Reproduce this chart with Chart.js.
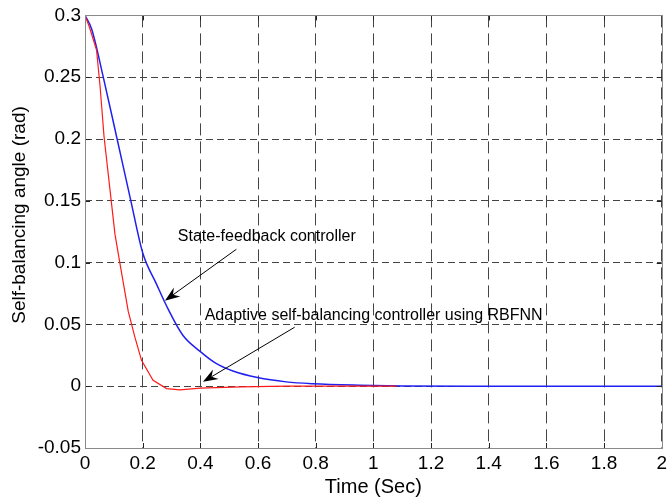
<!DOCTYPE html>
<html>
<head>
<meta charset="utf-8">
<script src="https://cdn.jsdelivr.net/npm/chart.js@4.4.0/dist/chart.umd.min.js"></script>
<style>
  html, body { margin: 0; padding: 0; background: #fff; }
</style>
</head>
<body>
<canvas id="angleChart" width="671" height="503"></canvas>
<script>
// values
const stateTime = [0, 0.023, 0.063, 0.11, 0.159, 0.2, 0.248, 0.288, 0.34, 0.398, 0.456, 0.513, 0.598, 0.698, 0.79, 0.95, 1.1, 1.4, 2];
const stateAngle = [0.3, 0.289, 0.2505, 0.2014, 0.150, 0.108, 0.0826, 0.0625, 0.041, 0.0284, 0.0182, 0.0123, 0.007, 0.0035, 0.002, 0.0008, 0.0002, 0, 0];

const rbfTime = [0, 0.016, 0.04, 0.052, 0.066, 0.09, 0.104, 0.121, 0.15, 0.173, 0.196, 0.236, 0.283, 0.329, 0.4, 0.54, 0.7, 1.08];
const rbfAngle = [0.3, 0.29, 0.272, 0.2435, 0.202, 0.152, 0.1228, 0.0995, 0.0605, 0.0397, 0.0209, 0.0048, -0.0019, -0.003, -0.0015, -0.0005, 0, 0];

const xTickValues = [0, 0.2, 0.4, 0.6, 0.8, 1, 1.2, 1.4, 1.6, 1.8, 2];
const xTickLabels = ['0', '0.2', '0.4', '0.6', '0.8', '1', '1.2', '1.4', '1.6', '1.8', '2'];
const yTickValues = [-0.05, 0, 0.05, 0.1, 0.15, 0.2, 0.25, 0.3];
const yTickLabels = ['-0.05', '0', '0.05', '0.1', '0.15', '0.2', '0.25', '0.3'];

// annotation text + arrow (tail -> tip), in data units
const notes = [
    { text: 'State-feedback controller', at: [0.322, 0.1207], tail: [0.525, 0.1108], tip: [0.277, 0.0692] },
    { text: 'Adaptive self-balancing controller using RBFNN', at: [0.415, 0.0571], tail: [0.727, 0.0477], tip: [0.409, 0.0035] }
];

const FONT = '"Liberation Sans", Arial, sans-serif';

function toPoints(xs, ys) {
    return xs.map((x, i) => ({ x: x, y: ys[i] }));
}

function drawArrow(ctx, x1, y1, x2, y2) {
    const ang = Math.atan2(y2 - y1, x2 - x1);
    const len = 15, half = 5.5, notch = 10;
    ctx.beginPath();
    ctx.moveTo(x1, y1);
    ctx.lineTo(x2 - Math.cos(ang) * notch, y2 - Math.sin(ang) * notch);
    ctx.stroke();
    ctx.beginPath();
    ctx.moveTo(x2, y2);
    ctx.lineTo(x2 - Math.cos(ang) * len + Math.sin(ang) * half, y2 - Math.sin(ang) * len - Math.cos(ang) * half);
    ctx.lineTo(x2 - Math.cos(ang) * notch, y2 - Math.sin(ang) * notch);
    ctx.lineTo(x2 - Math.cos(ang) * len - Math.sin(ang) * half, y2 - Math.sin(ang) * len + Math.cos(ang) * half);
    ctx.closePath();
    ctx.fill();
}

// box, inner ticks, y title and the two annotations
const extras = {
    id: 'extras',
    afterDraw(chart) {
        const ctx = chart.ctx;
        const a = chart.chartArea;
        const xs = chart.scales.x, ys = chart.scales.y;
        ctx.save();

        ctx.strokeStyle = '#222';
        ctx.lineWidth = 1;
        xTickValues.forEach(v => {
            const px = Math.round(xs.getPixelForValue(v)) + 0.5;
            ctx.beginPath();
            ctx.moveTo(px, a.bottom); ctx.lineTo(px, a.bottom - 5);
            ctx.moveTo(px, a.top); ctx.lineTo(px, a.top + 5);
            ctx.stroke();
        });
        yTickValues.forEach(v => {
            const py = Math.round(ys.getPixelForValue(v)) + 0.5;
            ctx.beginPath();
            ctx.moveTo(a.left, py); ctx.lineTo(a.left + 5, py);
            ctx.moveTo(a.right, py); ctx.lineTo(a.right - 5, py);
            ctx.stroke();
        });

        ctx.strokeStyle = '#8a8a8a';
        ctx.strokeRect(Math.round(a.left) + 0.5, Math.round(a.top) + 0.5,
            Math.round(a.right - a.left), Math.round(a.bottom - a.top));

        ctx.fillStyle = '#000';
        ctx.font = '19px ' + FONT;
        ctx.textAlign = 'center';
        ctx.textBaseline = 'middle';
        ctx.translate(20, 215);
        ctx.rotate(-Math.PI / 2);
        ctx.fillText('Self-balancing angle (rad)', 0, 0);
        ctx.setTransform(1, 0, 0, 1, 0, 0);

        ctx.font = '16px ' + FONT;
        ctx.textAlign = 'left';
        ctx.strokeStyle = '#000';
        notes.forEach(n => {
            ctx.fillText(n.text, xs.getPixelForValue(n.at[0]), ys.getPixelForValue(n.at[1]));
            drawArrow(ctx,
                xs.getPixelForValue(n.tail[0]), ys.getPixelForValue(n.tail[1]),
                xs.getPixelForValue(n.tip[0]), ys.getPixelForValue(n.tip[1]));
        });
        ctx.restore();
    }
};

const ctx = document.getElementById('angleChart').getContext('2d');
new Chart(ctx, {
    type: 'line',
    data: {
        datasets: [
            {
                label: 'Adaptive self-balancing controller using RBFNN',
                data: toPoints(rbfTime, rbfAngle),
                borderColor: '#ff1a1a',
                borderWidth: 1.2,
                pointRadius: 0,
                tension: 0
            },
            {
                label: 'State-feedback controller',
                data: toPoints(stateTime, stateAngle),
                borderColor: '#2020f0',
                borderWidth: 1.5,
                pointRadius: 0,
                cubicInterpolationMode: 'monotone'
            }
        ]
    },
    options: {
        responsive: false,
        animation: false,
        layout: { padding: { top: 13, right: 8, left: 0, bottom: 0 } },
        plugins: {
            legend: { display: false },
            tooltip: { enabled: false }
        },
        scales: {
            x: {
                type: 'linear',
                min: 0,
                max: 2,
                afterBuildTicks: s => { s.ticks = xTickValues.map(v => ({ value: v })); },
                afterFit: s => { s.height = 55; },
                grid: { color: '#444', lineWidth: 1, drawTicks: false },
                border: { display: false, dash: [12, 6] },
                ticks: {
                    autoSkip: false,
                    maxRotation: 0,
                    padding: 4,
                    color: '#000',
                    font: { family: FONT, size: 19 },
                    callback: (v, i) => xTickLabels[i]
                },
                title: {
                    display: true,
                    text: 'Time (Sec)',
                    color: '#000',
                    font: { family: FONT, size: 20 },
                    padding: { top: 0, bottom: 4 }
                }
            },
            y: {
                type: 'linear',
                min: -0.05,
                max: 0.3,
                afterBuildTicks: s => { s.ticks = yTickValues.map(v => ({ value: v })); },
                afterFit: s => { s.width = 85; },
                grid: { color: '#444', lineWidth: 1, drawTicks: false },
                border: { display: false, dash: [7, 4] },
                ticks: {
                    autoSkip: false,
                    padding: 4,
                    color: '#000',
                    font: { family: FONT, size: 19 },
                    callback: (v, i) => yTickLabels[i]
                }
            }
        }
    },
    plugins: [extras]
});
</script>
</body>
</html>
